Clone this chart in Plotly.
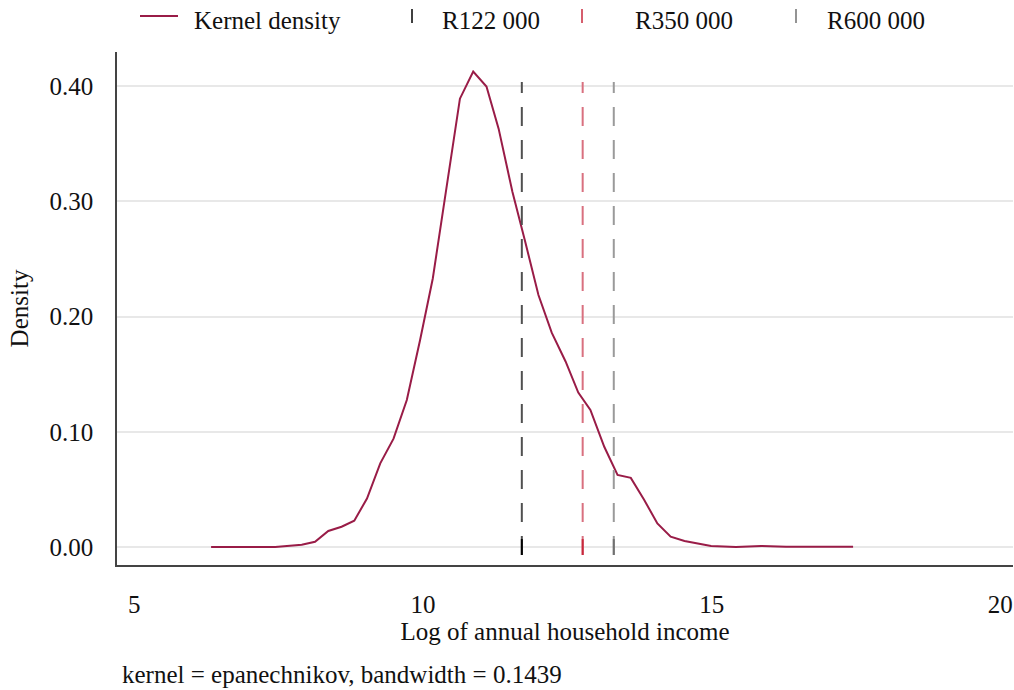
import plotly.graph_objects as go

# Kernel density estimate
log_income = [6.33, 7.44, 7.90, 8.13, 8.36, 8.59, 8.81, 9.03, 9.26, 9.49, 9.72, 9.95,
              10.17, 10.39, 10.64, 10.87, 11.10, 11.31, 11.55, 11.77, 12.00, 12.23,
              12.47, 12.69, 12.90, 13.14, 13.37, 13.60, 13.83, 14.06, 14.29, 14.53,
              14.76, 14.99, 15.42, 15.86, 16.29, 17.45]
density = [0.0, 0.0, 0.002, 0.0046, 0.0139, 0.0176, 0.0229, 0.042, 0.0726, 0.094,
           0.1275, 0.1796, 0.233, 0.307, 0.389, 0.4125, 0.3995, 0.363, 0.308, 0.265,
           0.2187, 0.186, 0.161, 0.134, 0.119, 0.087, 0.0625, 0.060, 0.041, 0.0205,
           0.009, 0.0052, 0.0032, 0.0009, 0.0, 0.0009, 0.0003, 0.0003]

# Income thresholds (log scale)
threshold_labels = ["R122 000", "R350 000", "R600 000"]
threshold_values = [11.712, 12.766, 13.305]
threshold_colors = ["#505050", "#d9707f", "#9a9a9a"]
threshold_base_colors = ["#000000", "#c8283c", "#707070"]
line_top = 0.4035
line_bottom = -0.0069

curve_color = "#991c47"
FONT = "Liberation Serif"
FS = 25

fig = go.Figure()

fig.add_trace(go.Scatter(x=log_income, y=density, mode="lines",
                         line=dict(color=curve_color, width=2), name="Kernel density",
                         showlegend=False))

for lab, xv, col, bcol in zip(threshold_labels, threshold_values, threshold_colors, threshold_base_colors):
    fig.add_trace(go.Scatter(x=[xv, xv], y=[line_bottom, line_top], mode="lines",
                             line=dict(color=col, width=2, dash="19px,14px"),
                             name=lab, showlegend=False))
    fig.add_trace(go.Scatter(x=[xv, xv], y=[line_bottom, 0.0069], mode="lines",
                             line=dict(color=bcol, width=2),
                             showlegend=False, hoverinfo="skip"))

# Layout geometry (pixels)
W, H = 1014, 690
ML, MR, MT, MB = 117, 1, 52, 125
PW, PH = W - ML - MR, H - MT - MB

def px(x):
    return (x - ML) / PW
def py(y):
    return (H - MB - y) / PH

shapes = []
annotations = []
# Custom legend on top
shapes.append(dict(type="line", xref="paper", yref="paper", x0=px(140), x1=px(178),
                   y0=py(16), y1=py(16), line=dict(color=curve_color, width=2)))
annotations.append(dict(text="Kernel density", xref="paper", yref="paper",
                        x=px(192), y=py(20), xanchor="left", yanchor="middle",
                        showarrow=False, font=dict(family=FONT, size=FS, color="#111")))
tick_x = [412, 582, 796]
text_x = [440, 633, 825]
for lab, col, tx, lx in zip(threshold_labels, threshold_base_colors, tick_x, text_x):
    shapes.append(dict(type="line", xref="paper", yref="paper", x0=px(tx), x1=px(tx),
                       y0=py(9), y1=py(23), line=dict(color=col, width=1.5)))
    annotations.append(dict(text=lab, xref="paper", yref="paper",
                            x=px(lx), y=py(20), xanchor="left", yanchor="middle",
                            showarrow=False, font=dict(family=FONT, size=FS, color="#111")))

annotations.append(dict(text="kernel = epanechnikov, bandwidth = 0.1439", xref="paper", yref="paper",
                        x=px(120), y=py(675), xanchor="left", yanchor="middle",
                        showarrow=False, font=dict(family=FONT, size=FS, color="#111")))

fig.update_layout(
    width=W, height=H,
    margin=dict(l=ML, r=MR, t=MT, b=MB),
    paper_bgcolor="white", plot_bgcolor="white",
    font=dict(family=FONT, size=FS, color="#111"),
    shapes=shapes, annotations=annotations,
    showlegend=False,
)
fig.update_xaxes(range=[4.70, 20.22], tickvals=[5, 10, 15, 20], showgrid=False,
                 zeroline=False, showline=True, linecolor="#444", linewidth=1.5,
                 ticks="", ticklabelstandoff=16,
                 title=dict(text="Log of annual household income", standoff=4,
                            font=dict(family=FONT, size=FS)))
fig.update_yaxes(range=[-0.0156, 0.4295], tickvals=[0, 0.1, 0.2, 0.3, 0.4], tickformat=".2f",
                 showgrid=True, gridcolor="#e8e8e8", gridwidth=1.5, zeroline=False,
                 showline=True, linecolor="#444", linewidth=1.5, ticks="",
                 ticklabelstandoff=17,
                 title=dict(text="Density", standoff=14, font=dict(family=FONT, size=FS)))

fig.write_html("out.html")
